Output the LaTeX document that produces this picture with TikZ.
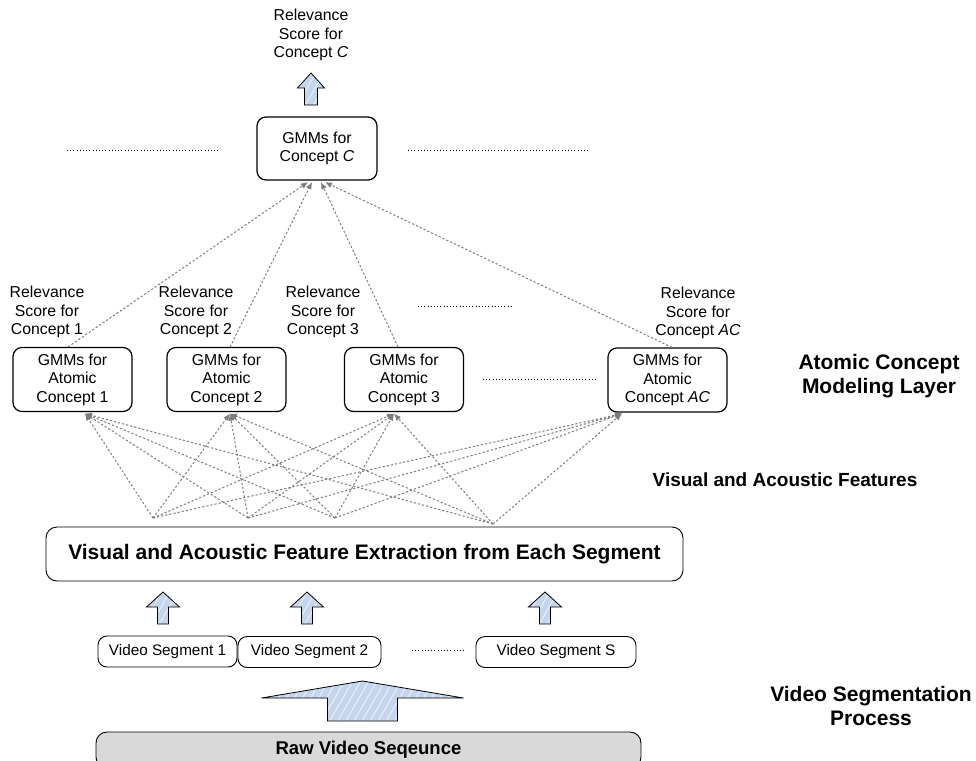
\documentclass[tikz,border=0pt]{standalone}
\usepackage{fontspec}
\setmainfont{Liberation Sans}
\usepackage{tikz}
\usetikzlibrary{arrows.meta}
\usetikzlibrary{patterns.meta}
\usetikzlibrary{calc}
\definecolor{arrowblue}{RGB}{196,213,236}
\definecolor{rawgray}{RGB}{217,217,217}
\definecolor{linkgray}{RGB}{125,125,125}
\tikzstyle{gmm}=[draw,rounded corners=9pt,line width=1.2pt,align=center,minimum width=119pt,minimum height=64pt,inner sep=1pt,font=\fontsize{15.8}{18.5}\selectfont]
\tikzstyle{segbox}=[draw,rounded corners=9pt,line width=0.9pt,minimum height=31pt,inner sep=1pt,font=\fontsize{15.3}{18.5}\selectfont]
\tikzstyle{score}=[align=center,inner sep=0pt,font=\fontsize{15.8}{18.5}\selectfont]
\tikzstyle{layer}=[align=center,inner sep=0pt,font=\fontsize{21}{24}\selectfont\bfseries]
\tikzstyle{link}=[linkgray,line width=1pt,dash pattern=on 2.2pt off 2pt,-{Latex[length=7pt,width=6pt]}]
\tikzstyle{etc}=[line width=0.9pt,dash pattern=on 0.9pt off 2.3pt]
\tikzstyle{fat}=[draw,line width=0.8pt,preaction={fill=arrowblue},pattern={Lines[angle=60,distance=7pt,line width=0.9pt]},pattern color=white!70!arrowblue]
\newcommand{\fatarrow}[6]{\draw[fat] (#1-#5,#3) -- (#1,#2) -- (#1+#5,#3) -- (#1+#6,#3) -- (#1+#6,#4) -- (#1-#6,#4) -- (#1-#6,#3) -- cycle;}

\begin{document}
\begin{tikzpicture}[x=1pt,y=-1pt]
\clip (0,0) rectangle (976,760);

\node [score] (topscore) at (311,35) {Relevance\\Score for\\Concept \textit{C}};
\node [gmm,minimum width=120pt,minimum height=63pt] (concept) at (317,148.5) {GMMs for\\Concept \textit{C}};
\draw [etc] (67,150) -- (218,150);
\draw [etc] (408,150) -- (590,150);
\fatarrow{311}{73}{88}{105}{13.5}{6.5}

\node [gmm] (atom1) at (72.5,379.5) {GMMs for\\Atomic\\Concept 1};
\node [gmm] (atom2) at (226.5,379.5) {GMMs for\\Atomic\\Concept 2};
\node [gmm] (atom3) at (404,379.5) {GMMs for\\Atomic\\Concept 3};
\node [gmm] (atom4) at (667.5,380) {GMMs for\\Atomic\\Concept \textit{AC}};
\draw [etc] (483,379) -- (597,379);

\node [score] (score1) at (47,312) {Relevance\\Score for\\Concept 1};
\node [score] (score2) at (196,312) {Relevance\\Score for\\Concept 2};
\node [score] (score3) at (323,312) {Relevance\\Score for\\Concept 3};
\node [score] (score4) at (698,313) {Relevance\\Score for\\Concept \textit{AC}};
\draw [etc] (418,306) -- (512,306);

\node [layer] (modeling) at (879,376) {Atomic Concept\\Modeling Layer};
\node [layer,font=\fontsize{19}{24}\selectfont\bfseries] (features) at (785,480) {Visual and Acoustic Features};
\node [layer] (segmentation) at (871,706) {Video Segmentation\\Process};

\coordinate (f1) at (153,518);
\coordinate (f2) at (248,518);
\coordinate (f3) at (335,518);
\coordinate (f4) at (493,524);
\coordinate (in1) at ($(atom1.south)+(12.5,1.5)$);
\coordinate (in2) at ($(atom2.south)+(3.5,1.5)$);
\coordinate (in3) at ($(atom3.south)+(-10,1.5)$);
\coordinate (in4) at ($(atom4.south)+(-45.5,1)$);
\foreach \f in {1,...,4}
  \foreach \a in {1,...,4}
    \draw [link] (f\f) -- (in\a);

\draw [link] ($(atom1.north)+(-4.5,0)$) -- ($(concept.south)+(-9,1.5)$);
\draw [link] ($(atom2.north)+(3.5,0)$) -- ($(concept.south)+(-5,1.5)$);
\draw [link] ($(atom3.north)+(-6,0)$) -- ($(concept.south)+(4,1.5)$);
\draw [link] ($(atom4.north)+(4.5,0)$) -- ($(concept.south)+(8,1.5)$);

\node [draw,rounded corners=11pt,line width=0.9pt,minimum width=637pt,minimum height=54pt,font=\fontsize{21}{24}\selectfont\bfseries] (extract) at (364.5,554) {Visual and Acoustic Feature Extraction from Each Segment};

\fatarrow{163}{592}{607}{624}{16.5}{5.5}
\fatarrow{307}{592}{607}{624}{16.5}{5.5}
\fatarrow{545}{592}{607}{624}{16.5}{5.5}

\node [segbox,minimum width=139pt] (seg1) at (167.5,651.5) {Video Segment 1};
\node [segbox,minimum width=143pt] (seg2) at (309.5,652) {Video Segment 2};
\node [segbox,minimum width=160pt] (segS) at (556,652) {Video Segment S};
\draw [etc] (412,650) -- (466,650);

\fatarrow{362.5}{681}{698}{721}{101}{35}

\node [draw,rounded corners=11pt,line width=0.9pt,fill=rawgray,minimum width=545pt,minimum height=36pt,font=\fontsize{18.5}{22}\selectfont\bfseries] (raw) at (368.5,750) {Raw Video Seqeunce};
\end{tikzpicture}
\end{document}
